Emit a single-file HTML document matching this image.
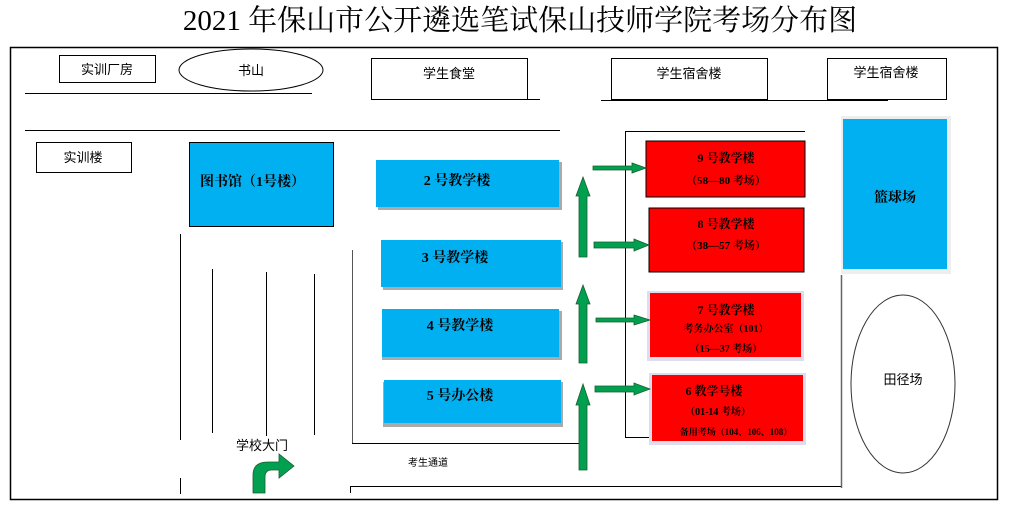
<!DOCTYPE html>
<html><head><meta charset="utf-8"><style>
html,body{margin:0;padding:0;background:#fff;width:1016px;height:529px;overflow:hidden}
svg text{font-family:"Liberation Sans","Noto Sans CJK SC",sans-serif}
.s{font-family:"Liberation Serif","Noto Serif CJK SC",serif;font-weight:bold}
</style></head><body>
<svg width="1016" height="529" viewBox="0 0 1016 529" xmlns="http://www.w3.org/2000/svg">
<rect x="0" y="0" width="1016" height="529" fill="#fff"/>
<text x="520" y="30" font-size="29" text-anchor="middle" style="font-family:'Liberation Serif','Noto Serif CJK SC',serif">2021 年保山市公开遴选笔试保山技师学院考场分布图</text>
<rect x="10.5" y="47.5" width="987" height="452" fill="none" stroke="#000" stroke-width="1.5"/>
<g fill="none" stroke="#000" stroke-width="1">
<rect x="59.5" y="55.5" width="96" height="27"/>
<ellipse cx="251" cy="70" rx="72" ry="21"/>
<line x1="25" y1="93.5" x2="312" y2="93.5"/>
<rect x="371.5" y="58.5" width="156" height="41"/>
<line x1="527" y1="99.5" x2="540" y2="99.5"/>
<rect x="611.5" y="58.5" width="156" height="41"/>
<rect x="827.5" y="58.5" width="119" height="41"/>
<line x1="601" y1="100.5" x2="888" y2="100.5"/>
<line x1="25" y1="130.5" x2="560" y2="130.5"/>
<rect x="36.5" y="142.5" width="95" height="30"/>
<line x1="625.5" y1="131" x2="625.5" y2="437"/>
<line x1="625" y1="131.5" x2="805" y2="131.5"/>
<line x1="625" y1="437.5" x2="660" y2="437.5"/>
<line x1="180.5" y1="234" x2="180.5" y2="440"/>
<line x1="180.5" y1="478" x2="180.5" y2="494"/>
<line x1="212.5" y1="269" x2="212.5" y2="433"/>
<line x1="266.5" y1="272" x2="266.5" y2="436"/>
<line x1="314.5" y1="274" x2="314.5" y2="435"/>
<line x1="352.5" y1="250" x2="352.5" y2="443" stroke="#555"/>
<line x1="352" y1="443.5" x2="580" y2="443.5"/>
<line x1="350" y1="486.5" x2="841" y2="486.5"/>
<line x1="350.5" y1="486" x2="350.5" y2="493"/>
<line x1="841.5" y1="275" x2="841.5" y2="488" stroke="#666" stroke-width="1.5"/>
<ellipse cx="903" cy="384" rx="52" ry="89" stroke="#333"/>
</g>
<!-- blue boxes -->
<rect x="189.5" y="142.5" width="144" height="84" fill="#00b0f0" stroke="#000"/>
<text x="200" y="186" font-size="14" class="s">图书馆（1号楼）</text>
<rect x="378" y="162" width="184" height="48" fill="#aaa"/>
<rect x="376" y="160" width="183" height="47" fill="#00b0f0"/>
<text x="457" y="185" font-size="14" class="s" text-anchor="middle">2 号教学楼</text>
<rect x="383" y="242" width="180" height="48" fill="#aaa"/>
<rect x="381" y="240" width="180" height="47" fill="#00b0f0"/>
<text x="455" y="262" font-size="14" class="s" text-anchor="middle">3 号教学楼</text>
<rect x="382" y="311" width="180" height="49" fill="#aaa"/>
<rect x="382" y="309" width="177" height="48" fill="#00b0f0"/>
<text x="460" y="330" font-size="14" class="s" text-anchor="middle">4 号教学楼</text>
<rect x="383" y="382" width="180" height="45" fill="#aaa"/>
<rect x="384" y="380" width="177" height="43" fill="#00b0f0"/>
<text x="460" y="400" font-size="14" class="s" text-anchor="middle">5 号办公楼</text>
<rect x="841" y="116" width="110" height="158" fill="#eee"/>
<rect x="843" y="119" width="104" height="150" fill="#00b0f0"/>
<text x="895" y="202" font-size="14" class="s" text-anchor="middle">篮球场</text>
<!-- red boxes -->
<rect x="646" y="141" width="159" height="56" fill="#f00" stroke="#000"/>
<text x="726" y="162" font-size="12" class="s" text-anchor="middle">9 号教学楼</text>
<text x="726" y="184" font-size="11" class="s" text-anchor="middle">（58—80 考场）</text>
<rect x="649" y="208" width="155" height="64" fill="#f00" stroke="#000"/>
<text x="726" y="228" font-size="12" class="s" text-anchor="middle">8 号教学楼</text>
<text x="726" y="249" font-size="11" class="s" text-anchor="middle">（38—57 考场）</text>
<rect x="647" y="291" width="157" height="70" fill="#dde"/>
<rect x="650" y="293" width="151" height="64" fill="#f00"/>
<text x="726" y="314" font-size="12" class="s" text-anchor="middle">7 号教学楼</text>
<text x="726" y="332" font-size="10" class="s" text-anchor="middle">考务办公室（101）</text>
<text x="726" y="352" font-size="10" class="s" text-anchor="middle">（15—37 考场）</text>
<rect x="649" y="373" width="157" height="72" fill="#dde"/>
<rect x="652" y="375" width="151" height="66" fill="#f00"/>
<text x="714" y="395" font-size="12" class="s" text-anchor="middle">6 教学号楼</text>
<text x="718" y="415" font-size="10" class="s" text-anchor="middle">（01-14 考场）</text>
<text x="736" y="435" font-size="9" class="s" text-anchor="middle">备用考场（104、106、108）</text>
<!-- labels -->
<g font-size="13" text-anchor="middle">
<text x="107" y="74">实训厂房</text>
<text x="251" y="75">书山</text>
<text x="449" y="78">学生食堂</text>
<text x="689" y="78">学生宿舍楼</text>
<text x="886" y="77">学生宿舍楼</text>
<text x="83" y="162">实训楼</text>
<text x="903" y="384">田径场</text>
<text x="262" y="450">学校大门</text>
<text x="428" y="466" font-size="10">考生通道</text>
</g>
<!-- green arrows -->
<g fill="#00a050" stroke="#1a5e2e" stroke-width="0.8">
<path d="M579,257 V196 H576 L583,177 L590,196 H587 V257 Z"/>
<path d="M579,363 V304 H576 L583,285 L590,304 H587 V363 Z"/>
<path d="M579,470 V405 H576 L583,384 L590,405 H587 V470 Z"/>
<path d="M593,166 H632 V163 L646,168 L632,173 V170 H593 Z"/>
<path d="M594,242 H634 V239 L649,245 L634,251 V248 H594 Z"/>
<path d="M596,318 H634 V315 L650,320 L634,325 V322 H596 Z"/>
<path d="M595,386 H634 V383 L650,389 L634,395 V392 H595 Z"/>
<path d="M253,493 V475 Q253,462 268,462 H279 V454 L294,466 L279,478 V470 H272 Q265,470 265,477 V493 Z"/>
</g>
</svg>
</body></html>
